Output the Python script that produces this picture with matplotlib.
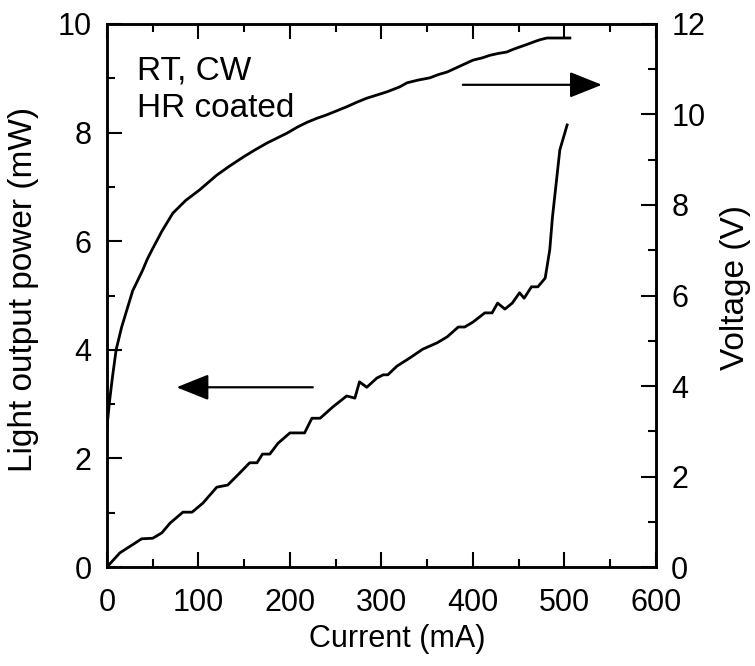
import matplotlib
matplotlib.use("Agg")
import matplotlib.pyplot as plt
from matplotlib.ticker import MultipleLocator

# Voltage (V) vs current (mA)
current_v = [0, 3, 6, 10, 16, 22, 28, 34, 39, 44, 49, 60, 72, 86, 101, 120, 134, 149,
             162, 175, 186, 197, 208, 219, 230, 240, 251, 262, 273, 284, 295, 306, 320,
             328, 340, 353, 362, 372, 386, 400, 410, 419, 428, 437, 444, 451, 458, 466,
             473, 481, 506]
voltage = [3.1, 3.7, 4.2, 4.8, 5.3, 5.7, 6.1, 6.35, 6.56, 6.8, 7.0, 7.42, 7.82, 8.1, 8.33,
           8.66, 8.86, 9.06, 9.22, 9.37, 9.48, 9.59, 9.72, 9.83, 9.92, 9.99, 10.08, 10.17,
           10.27, 10.36, 10.43, 10.5, 10.61, 10.7, 10.76, 10.81, 10.88, 10.94, 11.07, 11.2,
           11.25, 11.31, 11.35, 11.38, 11.44, 11.49, 11.54, 11.6, 11.65, 11.69, 11.69]

# Light output power (mW) vs current (mA)
current_p = [0, 14, 38, 50, 60, 69, 83, 93, 105, 120, 132, 145, 156, 164, 170, 178, 187,
             200, 216, 224, 233, 247, 262, 271, 276, 284, 295, 302, 307, 317, 331, 345,
             361, 372, 384, 391, 400, 413, 421, 427, 435, 443, 451, 456, 464, 471, 479,
             484, 487, 493, 495, 503]
power = [0, 0.26, 0.52, 0.53, 0.63, 0.81, 1.01, 1.01, 1.18, 1.47, 1.51, 1.73, 1.92, 1.92,
         2.08, 2.08, 2.28, 2.47, 2.47, 2.74, 2.74, 2.95, 3.15, 3.11, 3.41, 3.31, 3.48,
         3.54, 3.54, 3.70, 3.85, 4.01, 4.13, 4.24, 4.42, 4.42, 4.51, 4.68, 4.68, 4.86,
         4.75, 4.86, 5.05, 4.95, 5.16, 5.16, 5.32, 5.84, 6.45, 7.37, 7.68, 8.14]

x_ticks = [0, 100, 200, 300, 400, 500, 600]
left_ticks = [0, 2, 4, 6, 8, 10]
right_ticks = [0, 2, 4, 6, 8, 10, 12]

plt.rcParams['font.family'] = ['Liberation Sans', 'DejaVu Sans']

fig = plt.figure(figsize=(7.55, 6.66), dpi=100)
ax = fig.add_axes([0.1417, 0.1486, 0.727, 0.8154])
ax2 = ax.twinx()

lw = 2.0
ax.plot(current_p, power, color='black', lw=lw)
ax2.plot(current_v, voltage, color='black', lw=lw)

ax.set_xlim(0, 600)
ax.set_ylim(0, 10)
ax2.set_ylim(0, 12)

ax.set_xticks(x_ticks)
ax.xaxis.set_minor_locator(MultipleLocator(50))
ax.set_yticks(left_ticks)
ax.yaxis.set_minor_locator(MultipleLocator(1))
ax2.set_yticks(right_ticks)
ax2.yaxis.set_minor_locator(MultipleLocator(1))

for a in (ax, ax2):
    for s in a.spines.values():
        s.set_linewidth(1.8)

ax.tick_params(axis='x', which='both', direction='in', top=True, bottom=True,
               width=1.5, labelsize=22, pad=15)
ax.tick_params(axis='x', which='major', length=11)
ax.tick_params(axis='x', which='minor', length=5.5)
ax.tick_params(axis='y', which='both', direction='in', left=True, right=False,
               width=1.5, labelsize=22, pad=11)
ax.tick_params(axis='y', which='major', length=11)
ax.tick_params(axis='y', which='minor', length=5.5)
ax2.tick_params(axis='y', which='both', direction='in', right=True, left=False,
                width=1.5, labelsize=22, pad=11)
ax2.tick_params(axis='y', which='major', length=11)
ax2.tick_params(axis='y', which='minor', length=5.5)

ax.set_xlabel('Current (mA)', fontsize=22)
ax.xaxis.set_label_coords(0.529, -0.104)
ax.set_ylabel('Light output power (mW)', fontsize=24)
ax.yaxis.set_label_coords(-0.124, 0.512)
ax2.set_ylabel('Voltage (V)', fontsize=24)
ax2.yaxis.set_label_coords(1.116, 0.514)

ax.text(33, 8.98, 'RT, CW', fontsize=24)
ax.text(33, 8.29, 'HR coated', fontsize=24)

arrow_kw = dict(arrowstyle='-|>,head_length=1.0,head_width=0.4', color='black',
                lw=1.6, mutation_scale=20, shrinkA=0, shrinkB=0)
ax.annotate('', xy=(76, 3.31), xytext=(225, 3.31), arrowprops=arrow_kw)
ax.annotate('', xy=(541, 8.88), xytext=(389, 8.88), arrowprops=arrow_kw)

fig.savefig('out.png', dpi=100)
